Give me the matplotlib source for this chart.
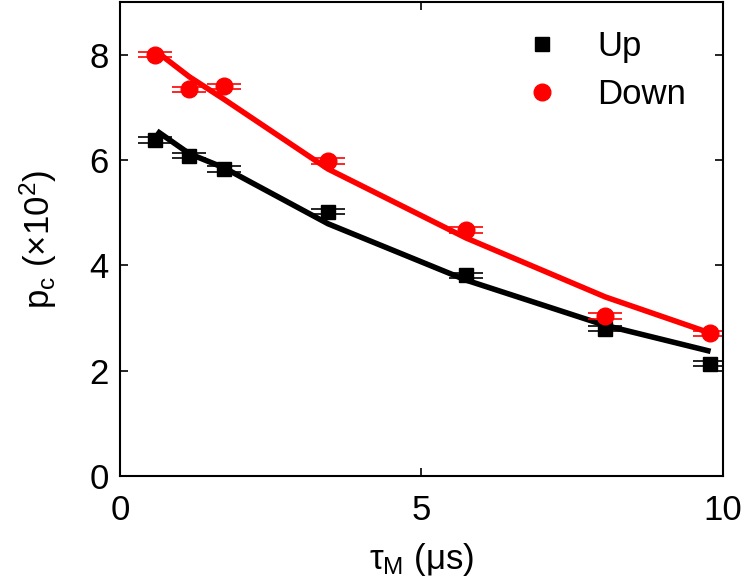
import numpy as np
import matplotlib
matplotlib.use('Agg')
import matplotlib.pyplot as plt

plt.rcParams['font.family'] = ['Liberation Sans', 'DejaVu Sans']
plt.rcParams['mathtext.fontset'] = 'custom'
plt.rcParams['mathtext.rm'] = 'Liberation Sans'
plt.rcParams['mathtext.it'] = 'Liberation Sans'

# measured points
tau = [0.58, 1.15, 1.73, 3.45, 5.74, 8.05, 9.78]
p_up = [6.38, 6.08, 5.83, 5.02, 3.81, 2.80, 2.13]
p_down = [8.00, 7.34, 7.40, 5.98, 4.67, 3.04, 2.71]
err_up = [0.05, 0.05, 0.05, 0.05, 0.05, 0.05, 0.05]
err_down = [0.05, 0.05, 0.05, 0.05, 0.05, 0.05, 0.05]

# model curves
tau_fit = [0.65, 1.15, 1.73, 3.45, 5.74, 8.05, 9.75]
fit_up = [6.52, 6.12, 5.85, 4.79, 3.72, 2.86, 2.38]
fit_down = [8.02, 7.58, 7.15, 5.83, 4.52, 3.40, 2.73]

fig = plt.figure(figsize=(7.43, 5.87), dpi=100)
ax = fig.add_axes([0.1615, 0.189, 0.8115, 0.8076])

ax.plot(tau_fit, fit_up, color='black', lw=4)
ax.plot(tau_fit, fit_down, color='red', lw=4)

ax.errorbar(tau, p_up, yerr=err_up, fmt='s', color='black', ms=10,
            capsize=12, capthick=1.2, elinewidth=1.2, label='Up')
ax.errorbar(tau, p_down, yerr=err_down, fmt='o', color='red', ms=12,
            capsize=12, capthick=1.2, elinewidth=1.2, label='Down')

ax.set_xlim(0, 10)
ax.set_ylim(0, 9)
ax.set_xticks([0, 5, 10])
ax.set_yticks([0, 2, 4, 6, 8])
ax.tick_params(direction='in', top=True, right=True, length=6, width=1.2,
               labelsize=25)
ax.tick_params(axis='x', pad=13)
ax.tick_params(axis='y', pad=8)
for s in ax.spines.values():
    s.set_linewidth(1.5)

ax.set_xlabel(r'$\tau_\mathrm{M}$ ($\mathrm{\mu}$s)', fontsize=25, labelpad=10)
ax.set_ylabel(r'$\mathrm{p_c}$ ($\times$10$^2$)', fontsize=25, labelpad=22)

handles, labels = ax.get_legend_handles_labels()
handles = [h[0] for h in handles]
ax.legend(handles, labels, loc='upper right', frameon=False, fontsize=25,
          handletextpad=1.1, handlelength=1.0, borderaxespad=0.3,
          labelspacing=0.45, borderpad=0.5, bbox_to_anchor=(0.985, 1.0))

fig.savefig('out.png', dpi=100)
